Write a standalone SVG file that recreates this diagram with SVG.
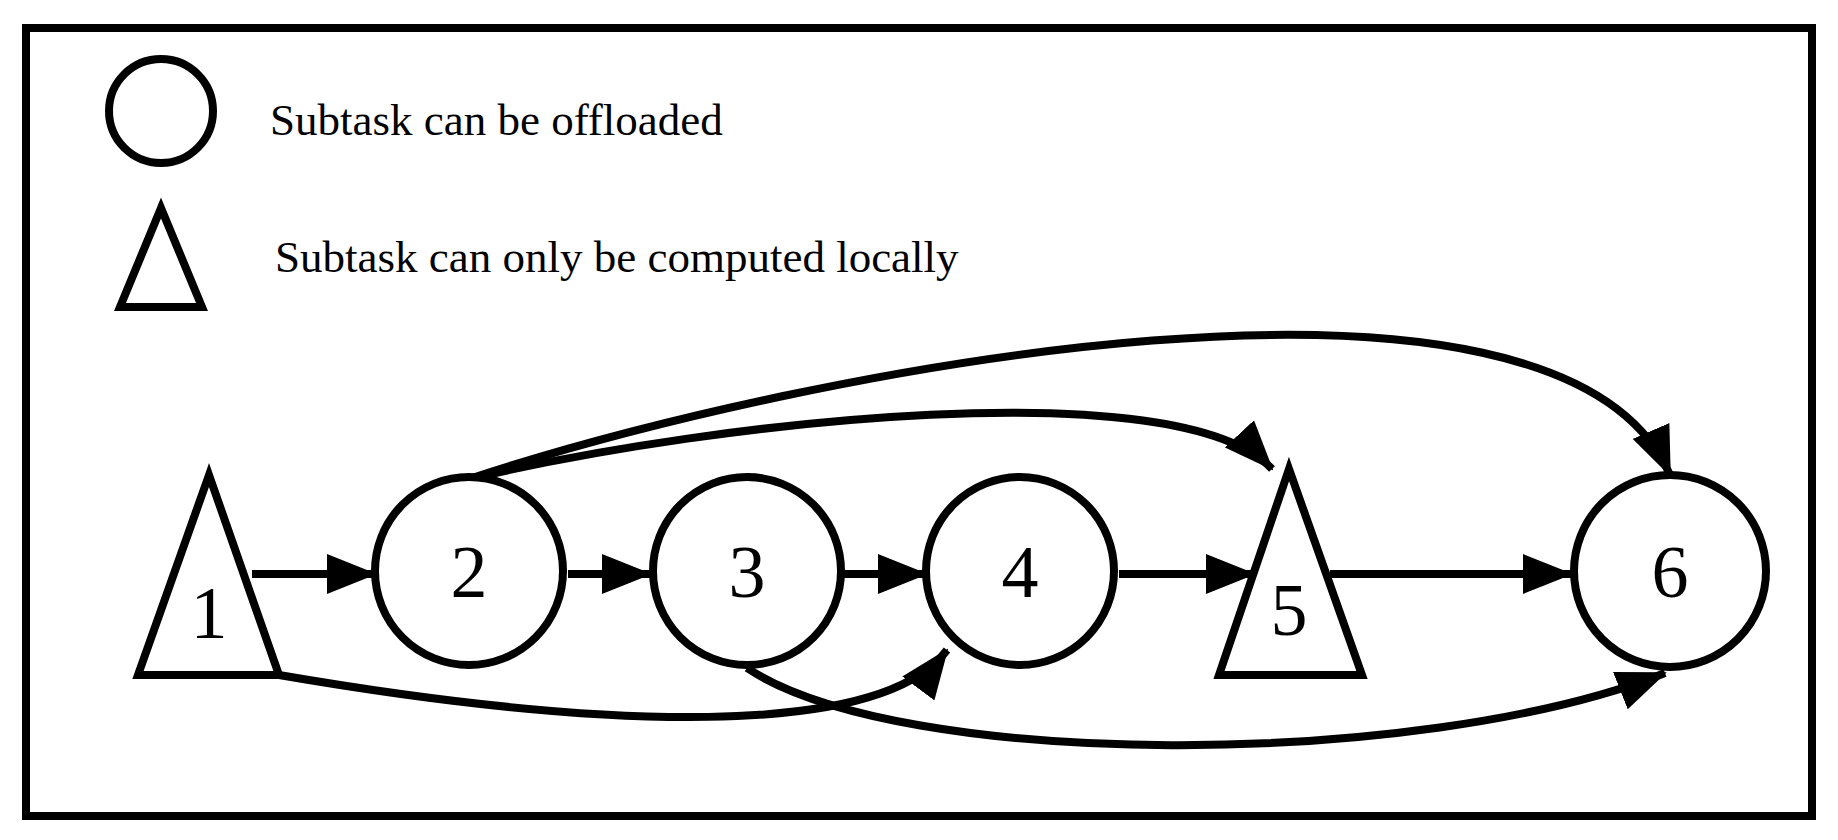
<svg xmlns="http://www.w3.org/2000/svg" width="1838" height="840" viewBox="0 0 1838 840">
<style>
.s{fill:#fff;stroke:#000;stroke-width:8;stroke-linejoin:miter}
.e{fill:none;stroke:#000;stroke-width:8}
.t{font-family:"Liberation Serif",serif;fill:#000}
.lg{font-size:45px}
.n{font-size:74px;text-anchor:middle}
</style>
<defs>
<marker id="a" markerUnits="userSpaceOnUse" markerWidth="50" markerHeight="40" refX="48" refY="20" orient="auto">
<path d="M0,0 L50,20 L0,40 Z" fill="#000"/>
</marker>
</defs>
<rect x="26" y="28" width="1786" height="788" fill="#fff" stroke="#000" stroke-width="8"/>
<g id="legend">
<circle class="s" cx="161" cy="111" r="52"/>
<text class="t lg" x="270" y="135">Subtask can be offloaded</text>
<polygon class="s" points="161,208 120,307 202,307"/>
<text class="t lg" x="275" y="272">Subtask can only be computed locally</text>
</g>
<g id="connectors">
<path class="e" marker-end="url(#a)" d="M252,574 L375,574"/>
<path class="e" marker-end="url(#a)" d="M568,574 L650,574"/>
<path class="e" marker-end="url(#a)" d="M842,574 L926,574"/>
<path class="e" marker-end="url(#a)" d="M1119,574 L1254,574"/>
<path class="e" marker-end="url(#a)" d="M1330,574 L1571,574"/>
<path class="e" marker-end="url(#a)" d="M469,479 C720,420 1180,370 1272,469"/>
<path class="e" marker-end="url(#a)" d="M469,479 C800,370 1560,220 1670,475"/>
<path class="e" marker-end="url(#a)" d="M279,675 C600,730 880,740 947,650"/>
<path class="e" marker-end="url(#a)" d="M747,668 C900,770 1420,770 1665,673"/>
</g>
<g id="n1"><polygon class="s" points="209,475 138,675 279,675"/><text class="t n" x="209" y="638">1</text></g>
<g id="n2"><circle class="s" cx="469" cy="571" r="94"/><text class="t n" x="469" y="597">2</text></g>
<g id="n3"><circle class="s" cx="747" cy="571" r="94"/><text class="t n" x="747" y="597">3</text></g>
<g id="n4"><circle class="s" cx="1020" cy="571" r="94"/><text class="t n" x="1020" y="597">4</text></g>
<g id="n5"><polygon class="s" points="1289,469 1219,675 1362,675"/><text class="t n" x="1289" y="635">5</text></g>
<g id="n6"><circle class="s" cx="1670" cy="571" r="96"/><text class="t n" x="1670" y="597">6</text></g>
</svg>
